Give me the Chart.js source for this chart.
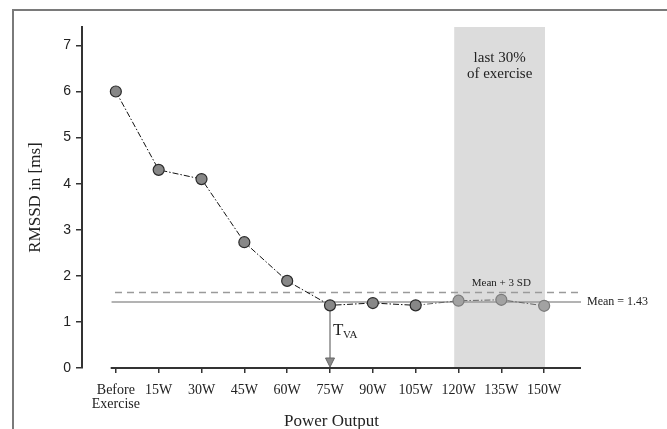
<!DOCTYPE html>
<html>
<head>
<meta charset="utf-8">
<script src="https://cdn.jsdelivr.net/npm/chart.js@4.4.0/dist/chart.umd.min.js"></script>
<style>
  html, body { margin: 0; padding: 0; background: #fff; }
  #wrap { width: 667px; height: 429px; }
</style>
</head>
<body>
<div id="wrap"><canvas id="rmssd_graph" width="667" height="429"></canvas></div>
<script>
// categories on the x axis
const stages = [['Before', 'Exercise'], '15W', '30W', '45W', '60W', '75W', '90W', '105W', '120W', '135W', '150W'];
// RMSSD per stage in ms
const rmssd = [6.0, 4.3, 4.1, 2.73, 1.89, 1.36, 1.41, 1.36, 1.46, 1.48, 1.35];
const yTicks = [0, 1, 2, 3, 4, 5, 6, 7];
const meanValue = 1.43;
const meanPlus3SD = 1.64;
const tvaIndex = 5;
// last 30% of exercise band (in stage units)
const bandFrom = 7.9;
const bandTo = 10.02;

const serif = '"Liberation Serif", "DejaVu Serif", serif';
const sans = '"Liberation Sans", Arial, sans-serif';

const annotations = {
    id: 'annotations',
    beforeDraw(chart) {
        const c = chart.ctx;
        //Frame around the figure
        c.save();
        c.strokeStyle = '#7a7a7a';
        c.lineWidth = 2;
        c.beginPath();
        c.moveTo(13, 429);
        c.lineTo(13, 10);
        c.lineTo(667, 10);
        c.stroke();
        c.restore();
    },
    beforeDatasetsDraw(chart) {
        const c = chart.ctx;
        const x = chart.scales.x, y = chart.scales.y;
        //Shaded band
        const x0 = x.getPixelForValue(bandFrom), x1 = x.getPixelForValue(bandTo);
        const top = chart.chartArea.top, bottom = y.getPixelForValue(0);
        c.save();
        c.fillStyle = '#dcdcdc';
        c.fillRect(x0, top, x1 - x0, bottom - top);
        c.fillStyle = '#222';
        c.font = '15px ' + serif;
        c.textAlign = 'center';
        c.textBaseline = 'middle';
        c.fillText('last 30%', (x0 + x1) / 2, 58);
        c.fillText('of exercise', (x0 + x1) / 2, 74);

        //x axis line (detached from y axis)
        c.strokeStyle = '#333';
        c.lineWidth = 2;
        c.beginPath();
        c.moveTo(x.getPixelForValue(-0.12), bottom);
        c.lineTo(x.getPixelForValue(10.86), bottom);
        c.stroke();

        //Mean lines
        const ym = y.getPixelForValue(meanValue);
        const ysd = y.getPixelForValue(meanPlus3SD);
        c.lineWidth = 1.5;
        c.strokeStyle = '#9a9a9a';
        c.beginPath();
        c.moveTo(x.getPixelForValue(-0.1), ym);
        c.lineTo(x.getPixelForValue(10.86), ym);
        c.stroke();
        c.setLineDash([7, 5]);
        c.beginPath();
        c.moveTo(x.getPixelForValue(-0.02), ysd);
        c.lineTo(x.getPixelForValue(10.86), ysd);
        c.stroke();
        c.setLineDash([]);

        //Arrow at T_VA
        const xa = x.getPixelForValue(tvaIndex);
        const ya = y.getPixelForValue(rmssd[tvaIndex]);
        c.strokeStyle = '#8a8a8a';
        c.lineWidth = 1.5;
        c.beginPath();
        c.moveTo(xa, ya);
        c.lineTo(xa, bottom - 8);
        c.stroke();
        c.fillStyle = '#8a8a8a';
        c.strokeStyle = '#666';
        c.lineWidth = 1;
        c.beginPath();
        c.moveTo(xa - 4.5, bottom - 10);
        c.lineTo(xa + 4.5, bottom - 10);
        c.lineTo(xa, bottom - 1);
        c.closePath();
        c.fill();
        c.stroke();

        //Texts
        c.fillStyle = '#222';
        c.textAlign = 'center';
        c.font = '11px ' + serif;
        c.fillText('Mean + 3 SD', x.getPixelForValue(9.0), ysd - 9);
        c.textAlign = 'left';
        c.font = '12px ' + serif;
        c.fillText('Mean = 1.43', x.right + 6, ym);
        c.font = '17px ' + serif;
        c.fillText('T', xa + 3, 331);
        c.font = '11px ' + serif;
        c.fillText('VA', xa + 13, 335);
        c.restore();
    }
};

window.onload = function()
{
    const points = rmssd.map((v, i) => ({ 'x': i, 'y': v }));
    const fills = rmssd.map((v, i) => i >= 8 ? '#a2a2a2' : '#878787');
    const borders = rmssd.map((v, i) => i >= 8 ? '#7a7a7a' : '#2a2a2a');

    const ctx = document.getElementById('rmssd_graph').getContext('2d');
    new Chart(ctx, {
        'type': 'scatter',
        'data': {
            'datasets': [{
                'label': 'RMSSD',
                'data': points,
                'showLine': true,
                'borderColor': '#111',
                'borderWidth': 1,
                'borderDash': [6, 2, 1.5, 2],
                'segment': { borderColor: (s) => s.p0DataIndex >= 7 ? '#666' : '#111' },
                'pointRadius': 5.5,
                'pointBorderWidth': 1.2,
                'pointBackgroundColor': fills,
                'pointBorderColor': borders
            }]
        },
        'plugins': [annotations],
        'options': {
            responsive: false,
            animation: false,
            devicePixelRatio: 1,
            layout: { padding: { left: 14, right: 86, top: 27, bottom: 0 } },
            plugins: { legend: { display: false }, tooltip: { enabled: false } },
            scales: {
                x: {
                    type: 'linear',
                    min: -0.79,
                    max: 10.86,
                    afterBuildTicks: (axis) => { axis.ticks = stages.map((s, i) => ({ value: i })); },
                    afterFit: (axis) => { axis.height = 61; },
                    ticks: {
                        autoSkip: false,
                        maxRotation: 0,
                        padding: 11,
                        color: '#222',
                        font: { family: serif, size: 14, lineHeight: 0.95 },
                        callback: (val, idx) => stages[idx]
                    },
                    grid: { drawOnChartArea: false, drawTicks: true, tickLength: 5, color: '#333', lineWidth: 1.5 },
                    border: { display: false },
                    title: { display: true, text: 'Power Output', color: '#222', padding: 0, font: { family: serif, size: 17, lineHeight: 0.9 } }
                },
                y: {
                    min: 0,
                    max: 7.4,
                    afterBuildTicks: (axis) => { axis.ticks = yTicks.map((v) => ({ value: v })); },
                    afterFit: (axis) => { axis.width = 68; },
                    ticks: { padding: 5, color: '#222', font: { family: sans, size: 14 } },
                    grid: { drawOnChartArea: false, drawTicks: true, tickLength: 6, color: '#333', lineWidth: 1.5 },
                    border: { display: true, color: '#333', width: 2 },
                    title: { display: true, text: 'RMSSD in [ms]', color: '#222', padding: { top: 11, bottom: 0 }, font: { family: serif, size: 17, lineHeight: 1.2 } }
                }
            }
        }
    });
}
</script>
</body>
</html>
